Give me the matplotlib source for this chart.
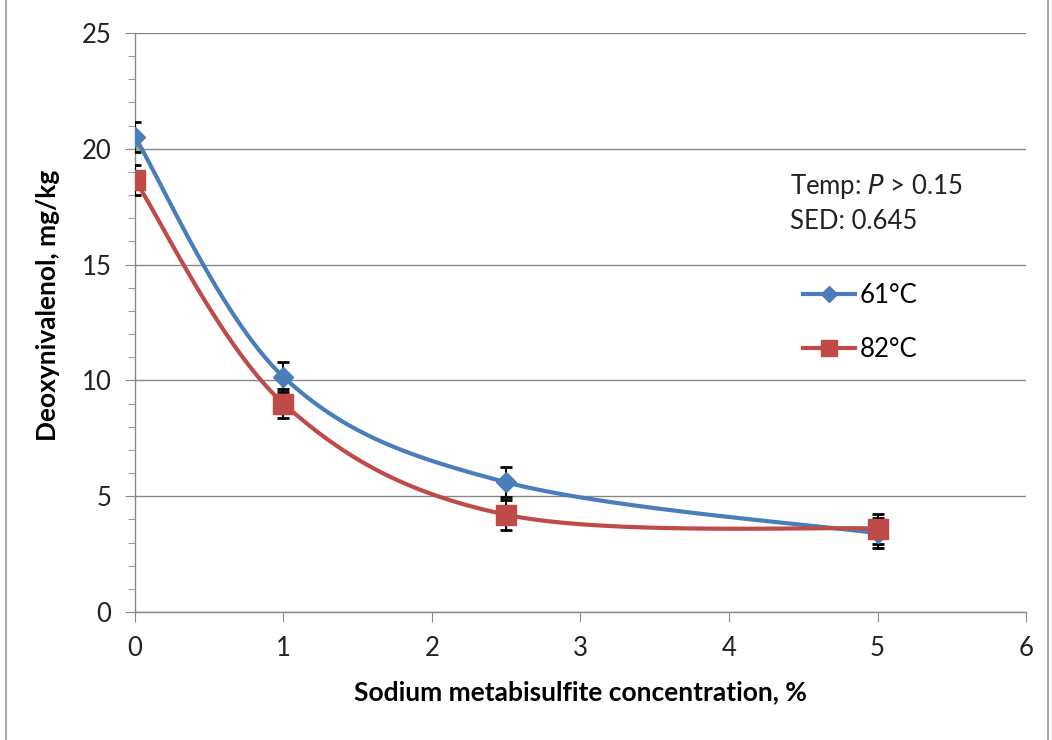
import numpy as np
import matplotlib.pyplot as plt
from matplotlib.patches import Rectangle

plt.rcParams['font.family'] = ['Lato', 'DejaVu Sans']

# data
conc = [0, 1, 2.5, 5]
don_61 = [20.5, 10.15, 5.6, 3.4]
don_82 = [18.65, 9.0, 4.2, 3.6]
sed = 0.645
hidden_x = [0]
hidden_y = [20.3]

blue = '#4A7EBB'
red = '#BE4B48'
green = '#9BBB59'
grid_col = '#888888'


def smooth(x, y, n=40):
    # excel-style smoothed line (bezier with neighbour tangents)
    x = np.asarray(x, float)
    y = np.asarray(y, float)
    px = np.concatenate([[x[0]], x, [x[-1]]])
    py = np.concatenate([[y[0]], y, [y[-1]]])
    xs, ys = [], []
    t = np.linspace(0, 1, n)
    for i in range(1, len(px) - 2):
        p0 = np.array([px[i], py[i]])
        p3 = np.array([px[i + 1], py[i + 1]])
        c1 = p0 + (np.array([px[i + 1], py[i + 1]]) - np.array([px[i - 1], py[i - 1]])) / 6
        c2 = p3 - (np.array([px[i + 2], py[i + 2]]) - np.array([px[i], py[i]])) / 6
        pts = ((1 - t) ** 3)[:, None] * p0 + (3 * (1 - t) ** 2 * t)[:, None] * c1 \
            + (3 * (1 - t) * t ** 2)[:, None] * c2 + (t ** 3)[:, None] * p3
        xs.extend(pts[:, 0])
        ys.extend(pts[:, 1])
    return xs, ys


fig = plt.figure(figsize=(10.52, 7.40), dpi=100)
ax = fig.add_axes([0.1283, 0.173, 0.847, 0.7824])

fig.patches.append(Rectangle((0.006, -0.01), 0.99, 1.02, transform=fig.transFigure,
                             fill=False, edgecolor='#999999', linewidth=1.2))

ax.set_xlim(0, 6)
ax.set_ylim(0, 25)
ax.set_yticks(range(0, 26, 5))
ax.set_yticks(range(0, 26, 1), minor=True)
ax.set_xticks(range(0, 7))
ax.yaxis.grid(True, color=grid_col, linewidth=1.0)
ax.set_axisbelow(True)
for s in ['top', 'right']:
    ax.spines[s].set_visible(False)
for s in ['left', 'bottom']:
    ax.spines[s].set_color(grid_col)
    ax.spines[s].set_linewidth(1.0)
ax.tick_params(axis='both', which='both', direction='out', color=grid_col,
               labelsize=18.5, labelcolor='#222222')
ax.tick_params(axis='y', which='major', length=7, pad=10)
ax.tick_params(axis='y', which='minor', length=5)
ax.tick_params(axis='x', which='major', length=7, pad=10)

ax.plot(hidden_x, hidden_y, marker='^', color=green, markersize=12, linestyle='none', zorder=2)

ax.errorbar(conc, don_61, yerr=sed, fmt='none', ecolor='black', elinewidth=1.5,
            capsize=4.5, capthick=2, zorder=3)
ax.errorbar(conc, don_82, yerr=sed, fmt='none', ecolor='black', elinewidth=1.5,
            capsize=4.5, capthick=2, zorder=3)

sx, sy = smooth(conc, don_61)
ax.plot(sx, sy, color=blue, linewidth=3, zorder=4)
ax.plot(conc, don_61, linestyle='none', marker='D', markersize=10, color=blue, zorder=5)
sx, sy = smooth(conc, don_82)
ax.plot(sx, sy, color=red, linewidth=3, zorder=4)
ax.plot(conc, don_82, linestyle='none', marker='s', markersize=15, color=red, zorder=5)

# legend entries
ax.plot([], [], color=blue, linewidth=3, marker='D', markersize=8, label='61°C')
ax.plot([], [], color=red, linewidth=3, marker='s', markersize=12, label='82°C')
ax.legend(loc='center left', bbox_to_anchor=(0.75, 0.5), frameon=False, fontsize=18.5,
          borderpad=0, borderaxespad=0, handlelength=2.0, handletextpad=0.2,
          labelspacing=1.1)

ax.text(0.735, 0.7357, 'Temp: $\\it{P}$ > 0.15', transform=ax.transAxes,
        fontsize=18.5, color='#222222', va='center')
ax.text(0.735, 0.6736, 'SED: 0.645', transform=ax.transAxes,
        fontsize=18.5, color='#222222', va='center')

ax.set_xlabel('Sodium metabisulfite concentration, %', fontsize=19, fontweight='bold',
              labelpad=14)
ax.set_ylabel('Deoxynivalenol, mg/kg', fontsize=19, fontweight='bold')
ax.yaxis.set_label_coords(-0.084, 0.53)

fig.savefig('out.png', dpi=100)
